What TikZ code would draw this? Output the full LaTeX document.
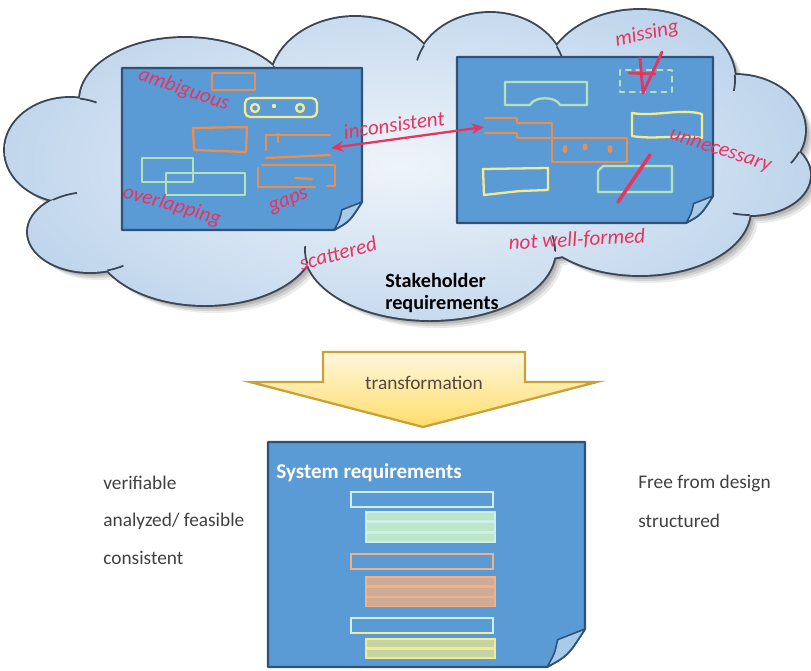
\documentclass[tikz,border=0pt]{standalone}
\usepackage{fontspec}
\setmainfont{Carlito}
\usetikzlibrary{arrows.meta}
\definecolor{docfill}{HTML}{5B9BD5}
\definecolor{docline}{HTML}{2F5276}
\definecolor{curlfill}{HTML}{A9CBEA}
\definecolor{cloudline}{HTML}{3C4654}
\definecolor{cloudin}{HTML}{EEF4FA}
\definecolor{cloudout}{HTML}{BCD3EB}
\definecolor{redink}{HTML}{E8335F}
\definecolor{orink}{HTML}{EE8E4A}
\definecolor{ylink}{HTML}{F4EB8E}
\definecolor{grink}{HTML}{B3E3B8}
\definecolor{cyink}{HTML}{CDEFEE}
\definecolor{peach}{HTML}{F4B183}
\definecolor{arrtop}{HTML}{FFF7DE}
\definecolor{arrbot}{HTML}{FFDD6A}
\definecolor{arrline}{HTML}{C8A238}
\definecolor{txtgrey}{HTML}{404040}
\newcommand\docpage[5]{%
  \filldraw[fill=docfill, draw=docline, line width=1.2pt, line join=round]
    (#1,#2) -- (#3,#2) -- ({#3},{#4-#5}) .. controls ({#3-0.45*#5},{#4-0.3*#5}) .. ({#3-#5},{#4}) -- (#1,#4) -- cycle;
  \filldraw[fill=curlfill, draw=docline, line width=0.9pt, line join=round]
    ({#3},{#4-#5}) -- ({#3-0.72*#5},{#4-0.72*#5}) .. controls ({#3-0.8*#5},{#4-0.35*#5}) .. ({#3-#5},{#4})
    .. controls ({#3-0.45*#5},{#4-0.3*#5}) .. ({#3},{#4-#5});
}
% notch arc: part of ellipse #2 lying inside ellipse #3, near point #1
\newcommand\cloudnotch[4]{%
  \begin{scope}
    \clip #1 circle (#4);
    \clip #3;
    \draw[notch] #2;
  \end{scope}}
\def\Ea{(70,150) ellipse (65 and 52)}
\def\Eb{(185,100) ellipse (105 and 62)}
\def\Ec{(355,85) ellipse (85 and 68)}
\def\Ed{(490,75) ellipse (75 and 62)}
\def\Ee{(640,80) ellipse (95 and 70)}
\def\Ef{(735,130) ellipse (70 and 55)}
\def\Eg{(750,175) ellipse (60 and 40)}
\def\Eh{(640,210) ellipse (110 and 65)}
\def\Ei{(430,250) ellipse (125 and 70)}
\def\Ej{(205,240) ellipse (110 and 65)}
\def\Ek{(90,232) ellipse (62 and 40)}
\tikzset{
  cloudp/.style={insert path={
    (70,150) ellipse (65 and 52)
    (185,100) ellipse (105 and 62)
    (355,85) ellipse (85 and 68)
    (490,75) ellipse (75 and 62)
    (640,80) ellipse (95 and 70)
    (735,130) ellipse (70 and 55)
    (750,175) ellipse (60 and 40)
    (640,210) ellipse (110 and 65)
    (430,250) ellipse (125 and 70)
    (205,240) ellipse (110 and 65)
    (90,232) ellipse (62 and 40)
    (400,170) ellipse (320 and 100)}},
  redlab/.style={text=redink, font=\fontsize{12}{14}\selectfont\itshape, inner sep=0pt},
  sk/.style={line width=1.3pt, line join=round, line cap=round},
  notch/.style={draw=cloudline, line width=1pt},
  sidetext/.style={text=txtgrey, font=\fontsize{11}{13}\selectfont, anchor=west, inner sep=0pt}
}
\begin{document}
\begin{tikzpicture}[x=0.02cm, y=-0.02cm]
\useasboundingbox (0,0) rectangle (811,670);
% ---- cloud
\foreach \s/\o in {2/0.12,4/0.12,6/0.10,8/0.08}{
  \fill[black, opacity=\o, shift={(\s,\s)}, cloudp];
}
\draw[draw=cloudline, line width=2.2pt, cloudp];
\begin{scope}
  \clip[cloudp];
  \shade[inner color=cloudin, outer color=cloudout] (400,165) ellipse (440 and 200);
\end{scope}
\cloudnotch{(81,99)}{\Ea}{\Eb}{16}
\cloudnotch{(273,66)}{\Eb}{\Ec}{18}
\cloudnotch{(424,46)}{\Ed}{\Ec}{16}
\cloudnotch{(556,46)}{\Ed}{\Ee}{16}
\cloudnotch{(735,75)}{\Ee}{\Ef}{16}
\cloudnotch{(799,152)}{\Ef}{\Eg}{14}
\cloudnotch{(748,218)}{\Eg}{\Eh}{16}
\cloudnotch{(555,251)}{\Ei}{\Eh}{16}
\cloudnotch{(307,264)}{\Ei}{\Ej}{18}
\cloudnotch{(108,270)}{\Ek}{\Ej}{16}
\cloudnotch{(52,200)}{\Ek}{\Ea}{26}
% ---- left document
\docpage{122}{68}{362}{230}{28}
\draw[sk, orink] (212,73) -- (255,73) -- (255,90) -- (212,90) -- cycle;
\draw[sk, ylink, rounded corners=3pt] (245,98) rectangle (317,117);
\draw[sk, ylink] (255,108) circle (4) (300,108) circle (4);
\fill[ylink] (274,106) circle (2.2);
\draw[sk, orink] (193,128) -- (247,127) -- (246,152) -- (194,150) -- cycle;
\draw[sk, orink] (266,150) -- (266,135) -- (330,135);
\draw[sk, orink] (278,134) -- (278,142);
\draw[sk, orink] (266,158) -- (330,155);
\draw[sk, orink] (258,168) -- (258,187) -- (315,187);
\draw[sk, orink] (262,165) -- (335,165) -- (335,186) -- (327,186);
\draw[sk, orink] (295,178) -- (312,179);
\draw[sk, grink] (142,158) rectangle (193,182);
\draw[sk, grink] (166,173) rectangle (245,195);
% ---- right document
\docpage{457}{57}{713}{223}{27}
\draw[sk, grink] (505,82) -- (587,82) -- (587,105) -- (560,105) .. controls (556,96) and (534,96) .. (530,105) -- (505,105) -- cycle;
\draw[sk, grink, dashed, line width=1pt] (620,70) rectangle (672,92);
\draw[sk, orink] (485,118) -- (517,118) -- (517,123) -- (552,123) -- (552,162) -- (627,162) -- (627,138) -- (517,138) -- (517,133) -- (485,133);
\fill[orink] (565,149) ellipse (2.5 and 4) (585,147) ellipse (2.5 and 3.5) (610,149) ellipse (2.5 and 4);
\draw[sk, ylink] (632,113) .. controls (655,117) and (680,108) .. (702,114) -- (702,138) .. controls (680,134) and (655,140) .. (632,136) -- cycle;
\draw[sk, ylink] (483,169) -- (548,168) -- (548,190) -- (520,191) -- (484,195) -- cycle;
\draw[sk, grink] (603,166) -- (672,166) -- (672,192) -- (598,192) -- (598,171) -- cycle;
\draw[redink, line width=2pt, line cap=round] (618,202) -- (650,155);
\draw[redink, line width=1.6pt, line cap=round, line join=round] (640,58) -- (643,93) -- (662,52);
\draw[redink, line width=1.6pt, line cap=round] (629,73) -- (655,74);
% ---- inconsistent arrow
\coordinate (incL) at (331,148);
\coordinate (incR) at (484,127);
\draw[redink, line width=1.3pt, {Stealth[length=7pt,width=6pt]}-{Stealth[length=7pt,width=6pt]}] (incL) -- (incR);
% ---- red labels
\node[redlab, rotate=-19] (amb) at (184,90) {ambiguous};
\node[redlab, rotate=-16] (ovl) at (172,206) {overlapping};
\node[redlab, rotate=22] (gaps) at (289,202) {gaps};
\node[redlab, rotate=8] (incon) at (394,125) {inconsistent};
\node[redlab, rotate=12] (miss) at (647,34) {missing};
\node[redlab, rotate=-18] (unn) at (720,152) {unnecessary};
\node[redlab, rotate=3] (nwf) at (577,240) {not well-formed};
\node[redlab, rotate=15] (scat) at (338,253) {scattered};
\node[anchor=north west, align=left, inner sep=0pt, font=\fontsize{11.5}{12.5}\selectfont\bfseries] (stk) at (385,273) {Stakeholder\\requirements};
% ---- transformation arrow
\shade[top color=arrtop, bottom color=arrbot] (323,352) -- (525,352) -- (525,382) -- (597,382) -- (423,427) -- (250,382) -- (323,382) -- cycle;
\draw[arrline, line width=1.3pt, line join=miter] (323,352) -- (525,352) -- (525,382) -- (597,382) -- (423,427) -- (250,382) -- (323,382) -- cycle;
\node[text=txtgrey!85!brown, font=\fontsize{11}{13}\selectfont, inner sep=0pt] (trans) at (424,383) {transformation};
% ---- system requirements document
\docpage{268}{442}{585}{667}{38}
\node[anchor=west, text=white, inner sep=0pt, font=\fontsize{12}{14}\selectfont\bfseries] (sysreq) at (276,473) {System requirements};
\draw[line width=1.3pt, cyink] (351,492) rectangle (493,507);
\foreach \i in {0,1,2}{
  \filldraw[fill=grink!70!cyink, draw=cyink, line width=0.9pt] (366,{512+10.5*\i}) rectangle (495,{521+10.5*\i});
}
\draw[line width=1.3pt, peach] (351,554) rectangle (493,569);
\foreach \i in {0,1,2}{
  \filldraw[fill=peach!75!docfill, draw=peach, line width=0.9pt] (366,{577+10.3*\i}) rectangle (495,{586+10.3*\i});
}
\draw[line width=1.3pt, cyink] (351,618) rectangle (493,633);
\draw[line width=0.9pt, ylink] (353,633) -- (491,633);
\foreach \i in {0,1}{
  \filldraw[fill=ylink!70!docfill, draw=ylink, line width=0.9pt] (366,{639+10*\i}) rectangle (495,{648+10*\i});
}
% ---- side texts
\node[sidetext] (ver) at (103,483) {verifiable};
\node[sidetext] (ana) at (103,521) {analyzed/ feasible};
\node[sidetext] (con) at (103,558) {consistent};
\node[sidetext] (free) at (638,483) {Free from design};
\node[sidetext] (str) at (638,521) {structured};
\end{tikzpicture}
\end{document}
